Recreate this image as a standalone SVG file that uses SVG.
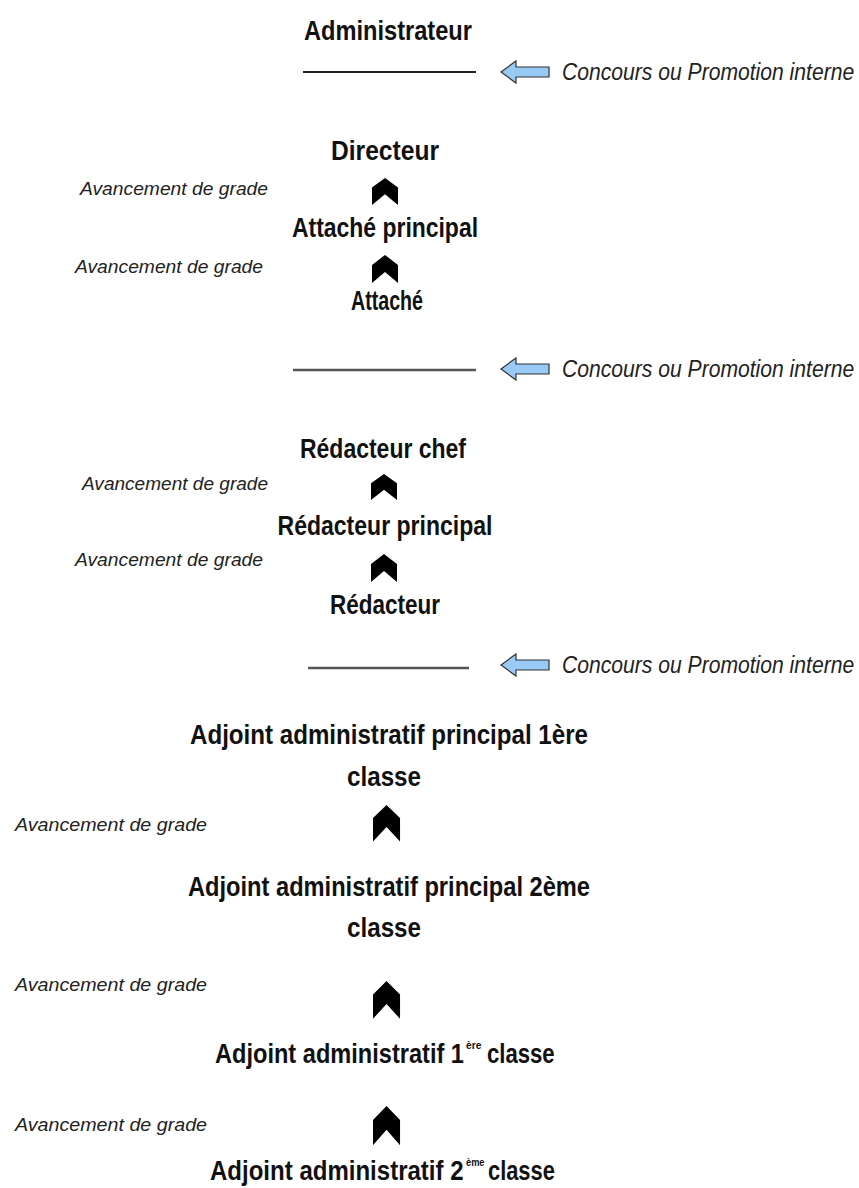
<svg xmlns="http://www.w3.org/2000/svg" xmlns:xlink="http://www.w3.org/1999/xlink" width="859" height="1188" viewBox="0 0 859 1188">
<style>
.g{font-family:"Liberation Sans",Arial,sans-serif;font-weight:bold;font-size:27px;fill:#111;text-anchor:middle}
.s{font-family:"Liberation Sans",Arial,sans-serif;font-weight:bold;font-size:27px;fill:#111}
.sup{font-family:"Liberation Sans",Arial,sans-serif;font-weight:bold;font-size:11px;fill:#111}
.a{font-family:"Liberation Sans",Arial,sans-serif;font-style:italic;font-size:19px;fill:#222}
.c{font-family:"Liberation Sans",Arial,sans-serif;font-style:italic;font-size:24px;fill:#222}
.ln{stroke:#222;stroke-width:2}
.ln2{stroke:#555;stroke-width:2.5}
.ar{fill:#99c9f5;stroke:#333;stroke-width:1.2}
.ch{fill:#000}
</style>
<defs>
<path id="chev" d="M13,0 L26,10 L26,28 L13,17 L0,28 L0,10 Z"/>
<path id="barrow" d="M0,0 L15,-11 L15,-5 L48,-5 L48,5 L15,5 L15,11 Z"/>
</defs>
<rect width="859" height="1188" fill="#fff"/>

<g id="connectors">
<use xlink:href="#chev" class="ch" transform="translate(372,178) scale(1,0.96)"/>
<use xlink:href="#chev" class="ch" transform="translate(372,255) scale(1,1)"/>
<use xlink:href="#chev" class="ch" transform="translate(371,474) scale(1,0.93)"/>
<use xlink:href="#chev" class="ch" transform="translate(371,554) scale(1,1)"/>
<use xlink:href="#chev" class="ch" transform="translate(373,805) scale(1.04,1.3)"/>
<use xlink:href="#chev" class="ch" transform="translate(373,981) scale(1.04,1.35)"/>
<use xlink:href="#chev" class="ch" transform="translate(373,1106) scale(1.04,1.4)"/>
</g>

<g id="entry1">
<line class="ln" x1="303" y1="72" x2="476" y2="72"/>
<use xlink:href="#barrow" class="ar" transform="translate(501,72)"/>
<text class="c" transform="translate(562,80) scale(0.88,1)">Concours ou Promotion interne</text>
</g>
<g id="entry2">
<line class="ln2" x1="293" y1="370" x2="476" y2="370"/>
<use xlink:href="#barrow" class="ar" transform="translate(501,369)"/>
<text class="c" transform="translate(562,377) scale(0.88,1)">Concours ou Promotion interne</text>
</g>
<g id="entry3">
<line class="ln2" x1="308" y1="668" x2="469" y2="668"/>
<use xlink:href="#barrow" class="ar" transform="translate(501,665)"/>
<text class="c" transform="translate(562,673) scale(0.88,1)">Concours ou Promotion interne</text>
</g>

<g id="administrateur"><text class="g" x="388" y="40" textLength="168" lengthAdjust="spacingAndGlyphs">Administrateur</text></g>
<g id="directeur"><text class="g" x="385" y="160" textLength="108" lengthAdjust="spacingAndGlyphs">Directeur</text></g>
<g id="av1"><text class="a" x="80" y="195" textLength="188" lengthAdjust="spacingAndGlyphs">Avancement de grade</text></g>
<g id="attache-principal"><text class="g" x="385" y="237" textLength="186" lengthAdjust="spacingAndGlyphs">Attaché principal</text></g>
<g id="av2"><text class="a" x="75" y="273" textLength="188" lengthAdjust="spacingAndGlyphs">Avancement de grade</text></g>
<g id="attache"><text class="g" x="387" y="310" textLength="72" lengthAdjust="spacingAndGlyphs">Attaché</text></g>

<g id="redacteur-chef"><text class="g" x="383" y="458" textLength="166" lengthAdjust="spacingAndGlyphs">Rédacteur chef</text></g>
<g id="av3"><text class="a" x="82" y="490" textLength="186" lengthAdjust="spacingAndGlyphs">Avancement de grade</text></g>
<g id="redacteur-principal"><text class="g" x="385" y="535" textLength="215" lengthAdjust="spacingAndGlyphs">Rédacteur principal</text></g>
<g id="av4"><text class="a" x="75" y="566" textLength="188" lengthAdjust="spacingAndGlyphs">Avancement de grade</text></g>
<g id="redacteur"><text class="g" x="385" y="614" textLength="110" lengthAdjust="spacingAndGlyphs">Rédacteur</text></g>

<g id="adjoint-p1">
<text class="g" x="389" y="744" textLength="398" lengthAdjust="spacingAndGlyphs">Adjoint administratif principal 1ère</text>
<text class="g" x="384" y="786" textLength="74" lengthAdjust="spacingAndGlyphs">classe</text>
</g>
<g id="av5"><text class="a" x="15" y="831" textLength="192" lengthAdjust="spacingAndGlyphs">Avancement de grade</text></g>
<g id="adjoint-p2">
<text class="g" x="389" y="896" textLength="402" lengthAdjust="spacingAndGlyphs">Adjoint administratif principal 2ème</text>
<text class="g" x="384" y="937" textLength="74" lengthAdjust="spacingAndGlyphs">classe</text>
</g>
<g id="av6"><text class="a" x="15" y="991" textLength="192" lengthAdjust="spacingAndGlyphs">Avancement de grade</text></g>
<g id="adjoint-1">
<text class="s" transform="translate(215,1063) scale(0.874,1)">Adjoint administratif 1</text>
<text class="sup" transform="translate(466,1049) scale(0.93,1)">ère</text>
<text class="s" transform="translate(487,1063) scale(0.82,1)">classe</text>
</g>
<g id="av7"><text class="a" x="15" y="1131" textLength="192" lengthAdjust="spacingAndGlyphs">Avancement de grade</text></g>
<g id="adjoint-2">
<text class="s" transform="translate(210,1180) scale(0.89,1)">Adjoint administratif 2</text>
<text class="sup" transform="translate(466,1166) scale(0.84,1)">ème</text>
<text class="s" transform="translate(488,1180) scale(0.81,1)">classe</text>
</g>
</svg>
